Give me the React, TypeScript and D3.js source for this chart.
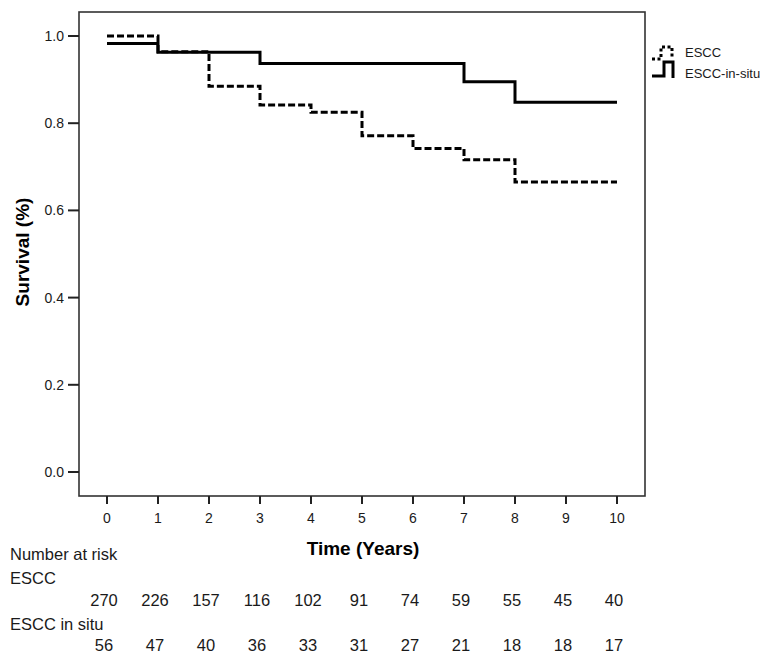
import React from "react";
import * as d3 from "d3";

const xTicks = [0, 1, 2, 3, 4, 5, 6, 7, 8, 9, 10];
const yTicks = [0, 0.2, 0.4, 0.6, 0.8, 1.0];

const esccTimes = [0, 1, 2, 3, 4, 5, 6, 7, 8, 10];
const esccSurv = [1.0, 0.964, 0.885, 0.842, 0.825, 0.771, 0.742, 0.716, 0.665, 0.665];

const situTimes = [0, 1, 3, 7, 8, 10];
const situSurv = [0.983, 0.963, 0.937, 0.895, 0.848, 0.848];

const riskYears = [0, 1, 2, 3, 4, 5, 6, 7, 8, 9, 10];
const riskEscc = [270, 226, 157, 116, 102, 91, 74, 59, 55, 45, 40];
const riskSitu = [56, 47, 40, 36, 33, 31, 27, 21, 18, 18, 17];

const seriesNames = ["ESCC", "ESCC-in-situ"];

export default function App() {
  const W = 774, H = 660;
  const x = d3.scaleLinear().domain([0, 10]).range([107, 617]);
  const y = d3.scaleLinear().domain([0, 1]).range([472, 36]);
  const box = { l: 79, r: 645, t: 12, b: 496 };

  const line = d3
    .line<[number, number]>()
    .x((d) => x(d[0]))
    .y((d) => y(d[1]))
    .curve(d3.curveStepAfter);

  const esccPts: [number, number][] = esccTimes.map((t, i) => [t, esccSurv[i]]);
  const situPts: [number, number][] = situTimes.map((t, i) => [t, situSurv[i]]);

  const font = "'Liberation Sans', Arial, sans-serif";
  const ink = "#1a1a1a";

  return (
    <svg
      width={W}
      height={H}
      style={{ position: "absolute", left: 0, top: 0, background: "#fff" }}
      fontFamily={font}
    >
      <rect x={0} y={0} width={W} height={H} fill="#fff" />
      {/* plot frame */}
      <rect
        x={box.l}
        y={box.t}
        width={box.r - box.l}
        height={box.b - box.t}
        fill="none"
        stroke="#333"
        strokeWidth={1.6}
      />
      {/* y axis ticks */}
      {yTicks.map((v) => (
        <g key={"y" + v}>
          <line x1={68} x2={box.l} y1={y(v)} y2={y(v)} stroke="#222" strokeWidth={2} />
          <text x={64} y={y(v)} dy="0.36em" textAnchor="end" fontSize={14} fill={ink}>
            {v.toFixed(1)}
          </text>
        </g>
      ))}
      {/* x axis ticks */}
      {xTicks.map((v) => (
        <g key={"x" + v}>
          <line x1={x(v)} x2={x(v)} y1={box.b} y2={box.b + 8} stroke="#222" strokeWidth={2} />
          <text x={x(v)} y={523} textAnchor="middle" fontSize={14} fill={ink}>
            {v}
          </text>
        </g>
      ))}
      {/* curves */}
      <path d={line(situPts) || ""} fill="none" stroke="#000" strokeWidth={3} />
      <path
        d={line(esccPts) || ""}
        fill="none"
        stroke="#000"
        strokeWidth={3}
        strokeDasharray="7,3"
      />
      {/* axis titles */}
      <text x={363} y={555} textAnchor="middle" fontSize={19} fontWeight="bold" fill="#000">
        Time (Years)
      </text>
      <text
        transform="translate(29,252) rotate(-90)"
        textAnchor="middle"
        fontSize={19}
        fontWeight="bold"
        fill="#000"
      >
        Survival (%)
      </text>
      {/* legend */}
      <path
        d="M652,59 H661 V47 H672 V58"
        fill="none"
        stroke="#000"
        strokeWidth={3}
        strokeDasharray="3,2.5"
      />
      <text x={685} y={57} fontSize={13} fill={ink}>
        {seriesNames[0]}
      </text>
      <path d="M652,76 H664 V62 H673 V78" fill="none" stroke="#000" strokeWidth={3} />
      <text x={685} y={78} fontSize={13} fill={ink}>
        {seriesNames[1]}
      </text>
      {/* number at risk */}
      <text x={10} y={560} fontSize={16.5} fill={ink}>
        Number at risk
      </text>
      <text x={10} y={584} fontSize={16.5} fill={ink}>
        ESCC
      </text>
      {riskYears.map((t, i) => (
        <text key={"re" + t} x={x(t) - 3} y={606} textAnchor="middle" fontSize={16.5} fill={ink}>
          {riskEscc[i]}
        </text>
      ))}
      <text x={10} y={630} fontSize={16.5} fill={ink}>
        ESCC in situ
      </text>
      {riskYears.map((t, i) => (
        <text key={"rs" + t} x={x(t) - 3} y={651} textAnchor="middle" fontSize={16.5} fill={ink}>
          {riskSitu[i]}
        </text>
      ))}
    </svg>
  );
}
